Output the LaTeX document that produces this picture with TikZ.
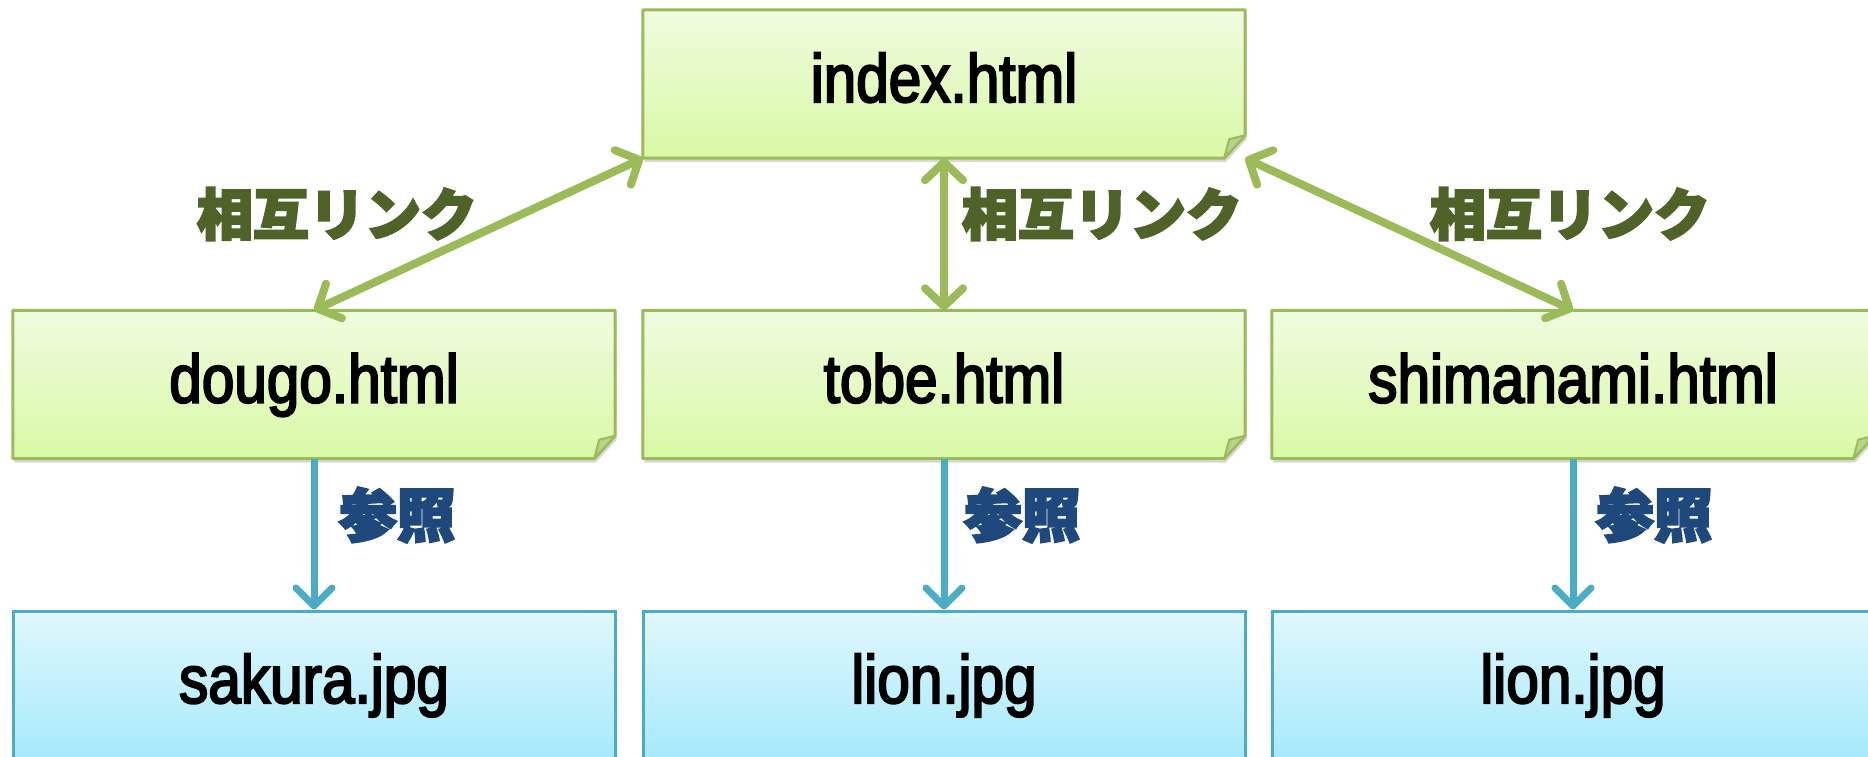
\documentclass[tikz,border=0pt]{standalone}
\usepackage{fontspec}
\setmainfont{Liberation Sans}[FakeStretch=0.86,FakeBold=3]
\newfontfamily\cjk{Noto Sans CJK JP}[FakeBold=4]
\usetikzlibrary{arrows.meta,shadows}
\pgfdeclarelayer{bg}
\pgfsetlayers{bg,main}
\definecolor{linkgreen}{HTML}{9BBB59}
\definecolor{refblue}{HTML}{4BACC6}
\definecolor{labgreen}{HTML}{4F6228}
\definecolor{labblue}{HTML}{1F497D}
\definecolor{gtop}{HTML}{F0FBE0}
\definecolor{gbot}{HTML}{D9F9A5}
\definecolor{btop}{HTML}{E1F7FD}
\definecolor{bbot}{HTML}{A6EAFC}
\definecolor{flapc}{HTML}{B5D38A}
\tikzset{
  fname/.style={font=\fontsize{68}{72}\selectfont, text=black, minimum width=602pt,
    minimum height=148pt, inner sep=0pt, text height=50pt, text depth=14pt},
  gshape/.style={draw=linkgreen, line width=3pt, top color=gtop, bottom color=gbot,
    line join=round, drop shadow={opacity=0.3, shadow xshift=1.5pt, shadow yshift=-4pt}},
  flap/.style={draw=linkgreen, line width=2pt, fill=flapc, line join=round},
  bbox/.style={fname, draw=refblue, line width=3pt, top color=btop, bottom color=bbot},
  glink/.style={draw=linkgreen, line width=8pt,
    {Straight Barb[length=18pt,width=38pt,round]}-{Straight Barb[length=18pt,width=38pt,round]}},
  rlink/.style={draw=refblue, line width=7pt, -{Straight Barb[length=18pt,width=36pt,round]}},
  labg/.style={font=\cjk\bfseries\fontsize{56}{60}\selectfont, text=labgreen, inner sep=0pt},
  labb/.style={font=\cjk\bfseries\fontsize{58}{62}\selectfont, text=labblue, inner sep=0pt},
}
\newcommand\foldshape[1]{%
  \path[gshape] (#1.north west) -- (#1.north east) -- ([yshift=23pt]#1.south east)
    -- ([xshift=-21pt]#1.south east) -- (#1.south west) -- cycle;
  \path[flap] ([yshift=23pt]#1.south east) -- ([xshift=-16pt,yshift=19pt]#1.south east)
    -- ([xshift=-21pt]#1.south east) -- cycle;
}
\begin{document}
\begin{tikzpicture}[x=1pt,y=1pt]
\useasboundingbox (0,0) rectangle (1868,-757);
\clip (0,0) rectangle (1868,-757);

\node[fname] (index) at (944,-84) {index.html};
\node[fname] (dougo) at (314,-384.5) {dougo.html};
\node[fname] (tobe) at (944,-384.5) {tobe.html};
\node[fname] (shim) at (1573,-384.5) {shimanami.html};

\begin{pgfonlayer}{bg}
\fill[white] (0,0) rectangle (1868,-757);
\foldshape{index}
\foldshape{dougo}
\foldshape{tobe}
\foldshape{shim}
\end{pgfonlayer}

\node[bbox] (sakura) at (314,-685) {sakura.jpg};
\node[bbox] (lion1) at (944,-685) {lion.jpg};
\node[bbox] (lion2) at (1573,-685) {lion.jpg};

\draw[glink] (index.south west) -- (dougo.north);
\draw[glink] (index.south) -- (tobe.north);
\draw[glink] (index.south east) -- (shim.north);

\draw[rlink] (dougo.south) -- (sakura.north);
\draw[rlink] (tobe.south) -- (lion1.north);
\draw[rlink] (shim.south) -- (lion2.north);

\node[labg] (l1) at (337,-214) {相互リンク};
\node[labg] (l2) at (1102,-214) {相互リンク};
\node[labg] (l3) at (1570,-214) {相互リンク};

\node[labb] (r1) at (397,-515) {参照};
\node[labb] (r2) at (1022,-515) {参照};
\node[labb] (r3) at (1654,-515) {参照};
\end{tikzpicture}
\end{document}
